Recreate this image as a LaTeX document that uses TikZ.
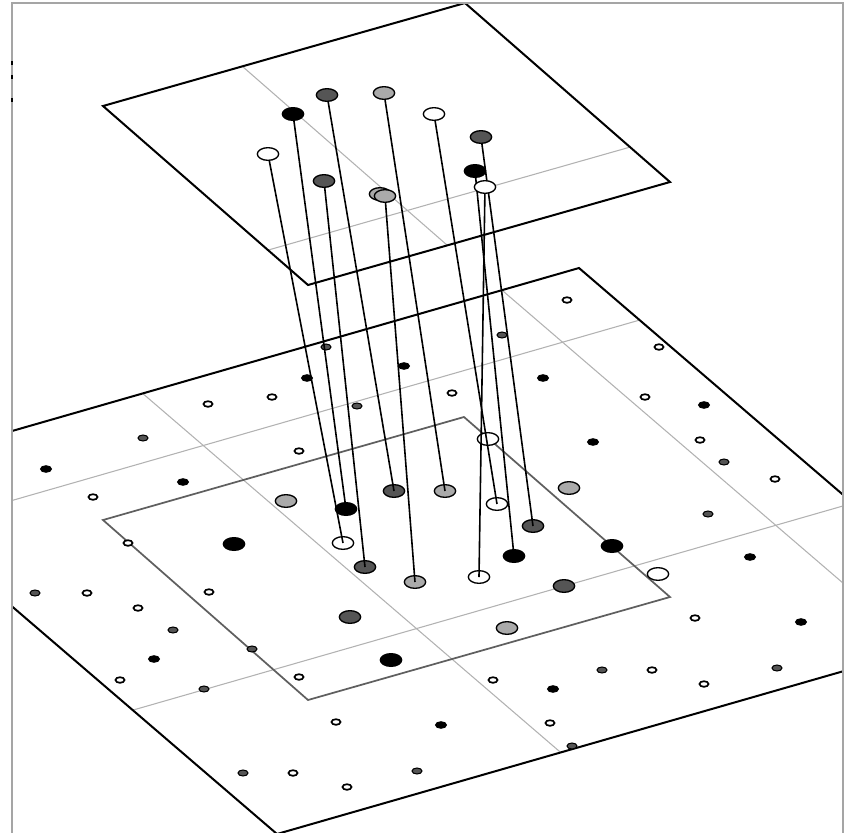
\documentclass[tikz,border=0pt]{standalone}
\usetikzlibrary{shapes.geometric,calc}
\pgfdeclarelayer{front}
\pgfsetlayers{main,front}

\definecolor{dgrey}{RGB}{85,85,85}
\definecolor{lgrey}{RGB}{170,170,170}
\definecolor{gridgrey}{RGB}{178,178,178}
\definecolor{framegrey}{RGB}{165,165,165}
\definecolor{boxgrey}{RGB}{95,95,95}

\tikzset{
plane/.style={line width=1.5pt, line join=miter},
innerbox/.style={boxgrey, line width=1.3pt, line join=miter},
gridline/.style={gridgrey, line width=0.8pt},
link/.style={line width=1.2pt},
site/.style={ellipse, draw=black, fill=#1, line width=1pt, minimum width=16pt, minimum height=9.5pt, inner sep=0pt},
sblack/.style={draw=black, fill=black, line width=0.7pt},
sdark/.style={draw=black, fill=dgrey, line width=0.8pt},
swhite/.style={draw=black, fill=white, line width=1.3pt}}
\tikzset{every picture/.style={line width=0.75pt}}

\begin{document}
\begin{tikzpicture}[x=0.75pt,y=0.75pt,yscale=-1,xscale=1]
\useasboundingbox (0,0) rectangle (851,833);

%Corners of the upper plane, the lower plane and the inner square
\coordinate (tl) at (103,106);
\coordinate (tt) at (465,3);
\coordinate (tr) at (670,182);
\coordinate (tb) at (308,285);
\coordinate (bl) at (-141,475);
\coordinate (bt) at (579,268);
\coordinate (br) at (997,627);
\coordinate (bb) at (277,834);
\coordinate (il) at (103,520);
\coordinate (it) at (464,417);
\coordinate (ir) at (670,597);
\coordinate (ib) at (308,700);

\begin{scope}
\clip (12,3) rectangle (843,833);
%Lower plane: grid lines
\draw [gridline] ($(bl)!0.394!(bt)$) -- ($(bb)!0.394!(br)$) ;
\draw [gridline] ($(bl)!0.893!(bt)$) -- ($(bb)!0.893!(br)$) ;
\draw [gridline] ($(bl)!0.145!(bb)$) -- ($(bt)!0.145!(br)$) ;
\draw [gridline] ($(bl)!0.655!(bb)$) -- ($(bt)!0.655!(br)$) ;
%Lower plane: outline
\draw [plane] (bl) -- (bt) -- (br) -- (bb) -- cycle ;
%Inner square
\draw [innerbox] (il) -- (it) -- (ir) -- (ib) -- cycle ;

%Small markers: black
\draw [sblack] (307,378) ellipse (5.5 and 3.3) ;
\draw [sblack] (404,366) ellipse (5.5 and 3.3) ;
\draw [sblack] (46,469) ellipse (5.5 and 3.3) ;
\draw [sblack] (183,482) ellipse (5.5 and 3.3) ;
\draw [sblack] (543,378) ellipse (5.5 and 3.3) ;
\draw [sblack] (704,405) ellipse (5.5 and 3.3) ;
\draw [sblack] (593,442) ellipse (5.5 and 3.3) ;
\draw [sblack] (750,557) ellipse (5.5 and 3.3) ;
\draw [sblack] (154,659) ellipse (5.5 and 3.3) ;
\draw [sblack] (801,622) ellipse (5.5 and 3.3) ;
\draw [sblack] (553,689) ellipse (5.5 and 3.3) ;
\draw [sblack] (441,725) ellipse (5.5 and 3.3) ;
%Small markers: dark
\draw [sdark] (326,347) ellipse (5 and 3) ;
\draw [sdark] (357,406) ellipse (5 and 3) ;
\draw [sdark] (143,438) ellipse (5 and 3) ;
\draw [sdark] (502,335) ellipse (5 and 3) ;
\draw [sdark] (724,462) ellipse (5 and 3) ;
\draw [sdark] (708,514) ellipse (5 and 3) ;
\draw [sdark] (35,593) ellipse (5 and 3) ;
\draw [sdark] (173,630) ellipse (5 and 3) ;
\draw [sdark] (252,649) ellipse (5 and 3) ;
\draw [sdark] (204,689) ellipse (5 and 3) ;
\draw [sdark] (243,773) ellipse (5 and 3) ;
\draw [sdark] (417,771) ellipse (5 and 3) ;
\draw [sdark] (602,670) ellipse (5 and 3) ;
\draw [sdark] (777,668) ellipse (5 and 3) ;
\draw [sdark] (572,746) ellipse (5 and 3) ;
%Small markers: white
\draw [swhite] (208,404) ellipse (4.5 and 2.8) ;
\draw [swhite] (272,397) ellipse (4.5 and 2.8) ;
\draw [swhite] (299,451) ellipse (4.5 and 2.8) ;
\draw [swhite] (93,497) ellipse (4.5 and 2.8) ;
\draw [swhite] (128,543) ellipse (4.5 and 2.8) ;
\draw [swhite] (567,300) ellipse (4.5 and 2.8) ;
\draw [swhite] (659,347) ellipse (4.5 and 2.8) ;
\draw [swhite] (452,393) ellipse (4.5 and 2.8) ;
\draw [swhite] (645,397) ellipse (4.5 and 2.8) ;
\draw [swhite] (700,440) ellipse (4.5 and 2.8) ;
\draw [swhite] (775,479) ellipse (4.5 and 2.8) ;
\draw [swhite] (87,593) ellipse (4.5 and 2.8) ;
\draw [swhite] (138,608) ellipse (4.5 and 2.8) ;
\draw [swhite] (209,592) ellipse (4.5 and 2.8) ;
\draw [swhite] (120,680) ellipse (4.5 and 2.8) ;
\draw [swhite] (299,677) ellipse (4.5 and 2.8) ;
\draw [swhite] (336,722) ellipse (4.5 and 2.8) ;
\draw [swhite] (293,773) ellipse (4.5 and 2.8) ;
\draw [swhite] (347,787) ellipse (4.5 and 2.8) ;
\draw [swhite] (695,618) ellipse (4.5 and 2.8) ;
\draw [swhite] (493,680) ellipse (4.5 and 2.8) ;
\draw [swhite] (652,670) ellipse (4.5 and 2.8) ;
\draw [swhite] (704,684) ellipse (4.5 and 2.8) ;
\draw [swhite] (550,723) ellipse (4.5 and 2.8) ;

%Sites on the lower plane
\node [site=white] (b1) at (343,543) {};
\node [site=black] (b2) at (346,509) {};
\node [site=dgrey] (b3) at (365,567) {};
\node [site=dgrey] (b4) at (394,491) {};
\node [site=lgrey] (b5) at (415,582) {};
\node [site=lgrey] (b6) at (445,491) {};
\node [site=white] (b7) at (497,504) {};
\node [site=dgrey] (b8) at (533,526) {};
\node [site=black] (b9) at (514,556) {};
\node [site=white] (b10) at (479,577) {};
\node [site=lgrey] (c1) at (286,501) {};
\node [site=black] (c2) at (234,544) {};
\node [site=dgrey] (c3) at (350,617) {};
\node [site=lgrey] (c4) at (507,628) {};
\node [site=black] (c5) at (391,660) {};
\node [site=lgrey] (c6) at (569,488) {};
\node [site=black] (c7) at (612,546) {};
\node [site=white] (c8) at (658,574) {};
\node [site=dgrey] (c9) at (564,586) {};
\node [site=white] (c10) at (488,439) {};

%Upper plane
\draw [gridline] ($(tl)!0.385!(tt)$) -- ($(tb)!0.385!(tr)$) ;
\draw [gridline] ($(tl)!0.805!(tb)$) -- ($(tt)!0.805!(tr)$) ;
\draw [plane] (tl) -- (tt) -- (tr) -- (tb) -- cycle ;
\end{scope}

%Sites on the upper plane
\begin{pgfonlayer}{front}
\node [site=white] (t1) at (268,154) {};
\node [site=black] (t2) at (293,114) {};
\node [site=dgrey] (t3) at (324,181) {};
\node [site=dgrey] (t4) at (327,95) {};
\node [site=lgrey] (t5b) at (380,194) {};
\node [site=lgrey] (t5) at (385,196) {};
\node [site=lgrey] (t6) at (384,93) {};
\node [site=white] (t7) at (434,114) {};
\node [site=dgrey] (t8) at (481,137) {};
\node [site=black] (t9) at (475,171) {};
\node [site=white] (t10) at (485,187) {};
\end{pgfonlayer}

%Links from the upper sites down to the lower sites
\draw [link] (t1.center) -- (b1.center) ;
\draw [link] (t2.center) -- (b2.center) ;
\draw [link] (t3.center) -- (b3.center) ;
\draw [link] (t4.center) -- (b4.center) ;
\draw [link] (t5.center) -- (b5.center) ;
\draw [link] (t6.center) -- (b6.center) ;
\draw [link] (t7.center) -- (b7.center) ;
\draw [link] (t8.center) -- (b8.center) ;
\draw [link] (t9.center) -- (b9.center) ;
\draw [link] (t10.center) -- (b10.center) ;

%Frame
\draw [framegrey, line width=1.2pt] (12,833) -- (12,3) -- (843,3) -- (843,833) ;
\draw [line width=1pt] (12,61) -- (12,65) ;
\draw [line width=1pt] (12,75) -- (12,79) ;
\draw [line width=1pt] (12,98) -- (12,102) ;

\end{tikzpicture}
\end{document}
